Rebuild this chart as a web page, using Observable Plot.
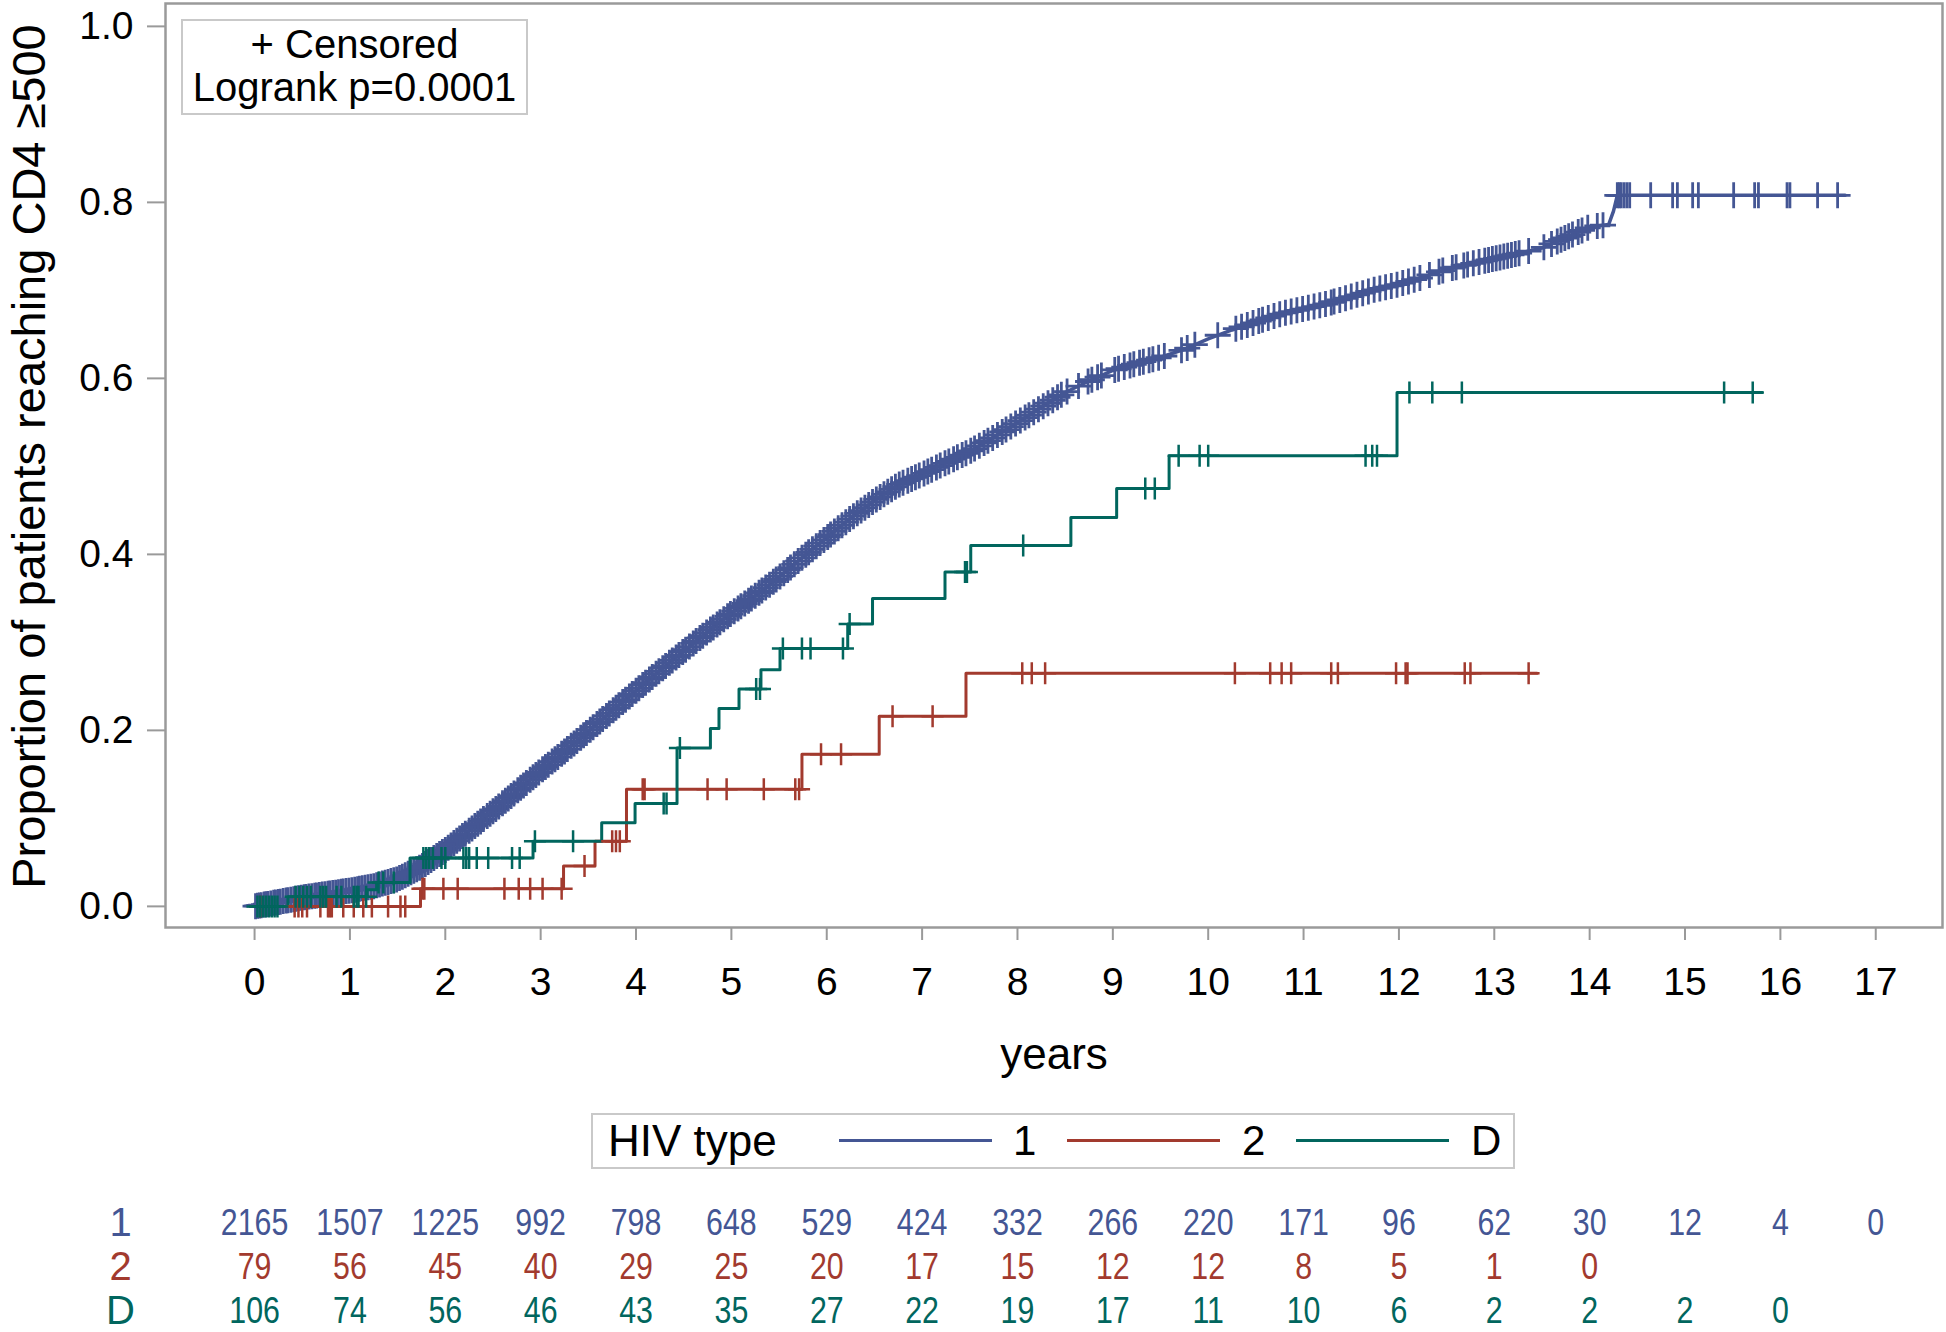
<!DOCTYPE html>
<html><head><meta charset="utf-8">
<script src="https://cdn.jsdelivr.net/npm/d3@7"></script>
<script src="https://cdn.jsdelivr.net/npm/@observablehq/plot@0.6"></script>
<style>
html,body{margin:0;padding:0;background:#fff;}
#wrap{position:relative;width:1946px;height:1332px;font-family:"Liberation Sans",Arial,sans-serif;color:#000;overflow:hidden;}
#wrap svg{position:absolute;left:0;}
.box{position:absolute;box-sizing:border-box;border:2px solid #c9c9c9;background:#fff;}
.lab{position:absolute;white-space:nowrap;}
.sw{position:absolute;height:3px;}
</style></head><body><div id="wrap"></div><script>
// ---- data ----
const groups = ["1", "2", "D"];
const groupColors = ["#445694", "#A23A2E", "#01665E"];
const xTicks = [0,1,2,3,4,5,6,7,8,9,10,11,12,13,14,15,16,17];
const yTicks = [0, 0.2, 0.4, 0.6, 0.8, 1.0];

// HIV type 1 (dense curve, estimated band centre)
const blueTime = [0,0.25,0.5,0.75,1.0,1.25,1.5,1.75,2.0,2.25,2.5,2.75,3.0,3.25,3.5,3.75,4.0,4.25,4.5,4.75,5.0,5.25,5.5,5.75,6.0,6.25,6.5,6.75,7.0,7.25,7.5,7.75,8.0,8.25,8.5,8.75,9.0,9.25,9.5,9.75,10.0,10.25,10.5,10.75,11.0,11.25,11.5,11.75,12.0,12.25,12.5,12.75,13.0,13.25,13.5,13.75,14.0,14.2,14.25,14.29,16.68];
const blueProb = [0,0.005,0.01,0.014,0.018,0.023,0.031,0.045,0.064,0.086,0.108,0.131,0.154,0.176,0.199,0.222,0.245,0.268,0.29,0.312,0.333,0.353,0.374,0.397,0.419,0.441,0.461,0.479,0.491,0.504,0.517,0.533,0.55,0.567,0.584,0.597,0.609,0.617,0.624,0.633,0.645,0.655,0.664,0.673,0.679,0.685,0.693,0.701,0.707,0.715,0.724,0.73,0.736,0.742,0.748,0.76,0.772,0.775,0.79,0.808,0.808];
const blueCensor = [0.01,0.03,0.05,0.07,0.1,0.12,0.14,0.17,0.2,0.22,0.25,0.27,0.3,0.33,0.35,0.38,0.41,0.43,0.46,0.49,0.52,0.54,0.57,0.6,0.63,0.65,0.68,0.71,0.74,0.77,0.79,0.82,0.85,0.88,0.91,0.93,0.96,0.99,1.02,1.05,1.08,1.1,1.13,1.16,1.19,1.22,1.25,1.28,1.31,1.34,1.37,1.4,1.43,1.46,1.49,1.52,1.55,1.58,1.61,1.64,1.67,1.7,1.73,1.76,1.79,1.82,1.85,1.88,1.91,1.94,1.97,
2.0,2.03,2.06,2.09,2.12,2.15,2.18,2.21,2.25,2.28,2.31,2.34,2.37,2.4,2.44,2.47,2.5,2.53,2.56,2.6,2.63,2.66,2.69,2.72,2.76,2.79,2.82,2.85,2.89,2.92,2.95,2.98,3.02,3.05,3.08,3.12,3.15,3.18,3.22,3.25,3.28,3.32,3.35,3.38,3.42,3.45,3.48,3.52,3.55,3.59,3.62,3.65,3.69,3.72,3.76,3.79,3.82,3.86,3.89,3.93,3.96,4.0,4.03,4.07,4.1,4.14,4.17,4.21,4.24,4.28,4.31,4.35,4.38,4.42,4.45,4.49,4.52,4.56,4.6,4.63,4.67,4.7,4.74,4.78,4.81,4.85,4.88,4.92,4.96,4.99,5.03,5.07,5.1,5.14,5.18,5.21,5.25,5.29,5.32,5.36,5.4,5.44,5.47,5.51,5.55,5.59,5.62,5.66,5.7,5.74,5.78,5.81,5.85,5.89,5.93,5.97,6.01,6.04,6.08,6.12,6.16,6.2,6.24,6.28,6.32,6.36,6.4,6.44,6.48,6.52,6.56,6.6,6.64,6.68,6.72,6.76,6.8,6.85,6.89,6.93,6.97,7.02,7.06,7.1,7.15,7.19,7.24,7.28,7.33,7.37,7.42,7.46,7.51,7.55,7.6,7.65,7.69,7.74,7.79,7.84,7.88,7.93,7.98,8.03,8.08,8.12,8.17,8.22,8.27,8.32,8.37,8.42,8.46,8.52,8.64,8.74,8.78,8.84,8.88,9.02,9.06,9.12,9.18,9.22,9.28,9.32,9.38,9.42,9.48,9.54,9.72,9.78,9.86,10.1,10.29,10.35,10.41,10.47,10.53,10.57,10.63,10.69,10.75,10.81,10.87,10.93,10.99,11.05,11.11,11.17,11.23,11.29,11.32,11.38,11.44,11.5,11.56,11.62,11.68,11.74,11.8,11.86,11.92,11.98,12.04,12.1,12.16,12.22,12.32,12.42,12.46,12.56,12.6,12.68,12.72,12.78,12.84,12.9,12.94,12.98,13.02,13.06,13.1,13.14,13.18,13.22,13.26,13.36,13.52,13.6,13.66,13.7,13.74,13.78,13.82,13.88,13.92,13.98,14.08,14.14,14.29,14.31,14.33,14.36,14.39,14.42,14.64,14.87,14.92,15.08,15.14,15.51,15.73,15.77,16.07,16.1,16.39,16.6];

// HIV type 2 (step function)
const redTime = [0,1.74,3.24,3.57,3.90,5.74,6.55,7.46,13.45];
const redProb = [0,0.02,0.046,0.074,0.133,0.173,0.216,0.265,0.265];
const redCensor = [0.06,0.42,0.46,0.5,0.55,0.69,0.77,0.79,0.81,0.93,1.04,1.14,1.23,1.4,1.53,1.58,1.76,1.78,1.98,2.13,2.62,2.77,2.89,3.02,3.22,3.46,3.75,3.79,3.83,4.07,4.09,4.75,4.95,5.34,5.67,5.71,5.94,6.15,6.69,7.11,8.05,8.15,8.29,10.28,10.65,10.77,10.87,11.29,11.36,11.97,12.07,12.09,12.69,12.75,13.36];

// HIV type D (step function)
const greenTime = [0,0.35,1.18,1.28,1.63,2.92,3.64,3.99,4.43,4.78,4.87,5.08,5.31,5.51,6.22,6.48,7.24,7.51,8.56,9.04,9.59,11.98,15.81];
const greenProb = [0,0.011,0.019,0.027,0.055,0.074,0.095,0.117,0.18,0.202,0.225,0.247,0.269,0.293,0.321,0.35,0.38,0.41,0.442,0.475,0.512,0.584,0.584];
const greenCensor = [0.03,0.06,0.09,0.12,0.15,0.18,0.21,0.24,0.43,0.47,0.51,0.55,0.59,0.69,0.72,0.75,0.86,0.91,1.04,1.07,1.09,1.17,1.3,1.35,1.46,1.77,1.8,1.83,1.87,1.96,2.0,2.19,2.22,2.25,2.33,2.45,2.7,2.78,2.94,3.34,4.29,4.32,4.46,5.26,5.3,5.54,5.74,5.83,6.17,6.24,7.45,7.47,8.06,9.34,9.44,9.69,9.91,10.0,11.65,11.72,11.77,12.11,12.35,12.66,15.41,15.71];

// Numbers at risk at each year
const riskTimes = [0,1,2,3,4,5,6,7,8,9,10,11,12,13,14,15,16,17];
const risk1 = [2165,1507,1225,992,798,648,529,424,332,266,220,171,96,62,30,12,4,0];
const risk2 = [79,56,45,40,29,25,20,17,15,12,12,8,5,1,0];
const riskD = [106,74,56,46,43,35,27,22,19,17,11,10,6,2,2,2,0];

const yTitle = "Proportion of patients reaching CD4 \u2265500";
const xTitle = "years";
const legendTitle = "HIV type";
const insetLines = ["+ Censored", "Logrank p=0.0001"];

// ---- build tables ----
const FONT = "'Liberation Sans', Arial, sans-serif";
const GRAY = "#9a9a9a";
const mkCurve = (T, P, g) => T.map((t, i) => ({t, p: P[i], group: g}));
const blueCurve = mkCurve(blueTime, blueProb, "1");
const redCurve = mkCurve(redTime, redProb, "2");
const greenCurve = mkCurve(greenTime, greenProb, "D");
const stepAt = (T, P) => t => P[Math.max(0, d3.bisectRight(T, t) - 1)];
const linAt = d3.scaleLinear(blueTime, blueProb);
const blueMarks = blueCensor.map(t => ({t, p: linAt(t), group: "1"}));
const otherMarks = [
  ...redCensor.map(t => ({t, p: stepAt(redTime, redProb)(t), group: "2"})),
  ...greenCensor.map(t => ({t, p: stepAt(greenTime, greenProb)(t), group: "D"}))
];
const riskRows = [
  ...risk1.map((n, i) => ({t: riskTimes[i], n, group: "1"})),
  ...risk2.map((n, i) => ({t: riskTimes[i], n, group: "2"})),
  ...riskD.map((n, i) => ({t: riskTimes[i], n, group: "D"}))
];

const plusMark = {draw(ctx, size) { const r = Math.sqrt(size / Math.PI); ctx.moveTo(-r, 0); ctx.lineTo(r, 0); ctx.moveTo(0, -r); ctx.lineTo(0, r); }};

const W = 1946;
const xDomain = [-0.934, 17.70];
const yDomain = [-0.024, 1.026];
const colorScale = {domain: groups, range: groupColors};
const baseStyle = {fontFamily: FONT, fontSize: "39px", color: "#000", background: "transparent", overflow: "visible"};

const main = Plot.plot({
  width: W, height: 1100,
  marginLeft: 165, marginRight: 4, marginTop: 3, marginBottom: 173,
  x: {domain: xDomain},
  y: {domain: yDomain},
  color: colorScale,
  style: baseStyle,
  marks: [
    Plot.axisX({ticks: xTicks, tickSize: 13, tickPadding: 27, stroke: GRAY, strokeWidth: 2, fill: "#000", label: null, tickFormat: d => String(d), fontSize: 39}),
    Plot.axisY({ticks: yTicks, tickSize: 18, tickPadding: 14, stroke: GRAY, strokeWidth: 2, fill: "#000", label: null, tickFormat: d3.format(".1f"), fontSize: 39}),
    Plot.frame({stroke: GRAY, strokeWidth: 2.5}),
    Plot.line(blueCurve, {x: "t", y: "p", stroke: "group", strokeWidth: 3.5, curve: "linear"}),
    Plot.dot(blueMarks, {x: "t", y: "p", stroke: "group", fill: "none", symbol: plusMark, r: 13, strokeWidth: 2.8}),
    Plot.line(redCurve, {x: "t", y: "p", stroke: "group", strokeWidth: 3, curve: "step-after"}),
    Plot.line(greenCurve, {x: "t", y: "p", stroke: "group", strokeWidth: 3, curve: "step-after"}),
    Plot.dot(otherMarks, {x: "t", y: "p", stroke: "group", fill: "none", symbol: plusMark, r: 11, strokeWidth: 2.5}),
    Plot.text([yTitle], {text: d => d, frameAnchor: "left", textAnchor: "middle", rotate: -90, dx: -136, dy: -9, fontSize: 47}),
    Plot.text([xTitle], {text: d => d, frameAnchor: "bottom", textAnchor: "middle", dy: 141, fontSize: 44})
  ]
});
main.style.top = "0px";

const risk = Plot.plot({
  width: W, height: 137,
  marginLeft: 165, marginRight: 4, marginTop: 27, marginBottom: 21,
  x: {domain: xDomain, axis: null},
  y: {type: "point", domain: groups, axis: null, padding: 0},
  color: colorScale,
  style: baseStyle,
  marks: [
    Plot.text(riskRows, {x: "t", y: "group", text: d => String(d.n), fill: "group", fontSize: 37}),
    Plot.text(groups, {frameAnchor: "left", textAnchor: "middle", y: d => d, text: d => d, fill: d => d, dx: -45, fontSize: 40})
  ]
});
risk.style.top = "1195px";
// condense the at-risk numbers horizontally (the reference uses a narrow face)
{
  const g = risk.querySelectorAll('g[aria-label="text"]')[0];
  if (g) g.querySelectorAll("text").forEach(t => {
    const tr = t.getAttribute("transform");
    if (tr) t.setAttribute("transform", tr + " scale(0.82,1)");
    else {
      const x = t.getAttribute("x") || 0, y = t.getAttribute("y") || 0;
      t.removeAttribute("x"); t.removeAttribute("y");
      t.setAttribute("transform", `translate(${x},${y}) scale(0.82,1)`);
    }
  });
}

const wrap = document.getElementById("wrap");
wrap.appendChild(main);
wrap.appendChild(risk);

// inset box
const inset = document.createElement("div");
inset.className = "box";
Object.assign(inset.style, {left: "181px", top: "19px", width: "347px", height: "96px", fontSize: "40px", lineHeight: "43px", textAlign: "center", paddingTop: "2px"});
inset.innerHTML = insetLines.map(s => `<div>${s}</div>`).join("");
wrap.appendChild(inset);

// legend
const leg = document.createElement("div");
leg.className = "box";
Object.assign(leg.style, {left: "591px", top: "1113px", width: "924px", height: "56px"});
wrap.appendChild(leg);
const addLab = (txt, left, size) => {
  const d = document.createElement("div");
  d.className = "lab";
  d.textContent = txt;
  Object.assign(d.style, {left: left + "px", top: "1113px", height: "56px", lineHeight: "56px", fontSize: size + "px"});
  wrap.appendChild(d);
};
const addSw = (color, left) => {
  const d = document.createElement("div");
  d.className = "sw";
  Object.assign(d.style, {left: left + "px", top: "1139px", width: "153px", background: color});
  wrap.appendChild(d);
};
addLab(legendTitle, 608, 44);
const swLeft = [839, 1067, 1296];
const labLeft = [1013, 1242, 1471];
groups.forEach((g, i) => { addSw(groupColors[i], swLeft[i]); addLab(g, labLeft[i], 42); });
</script></body></html>
